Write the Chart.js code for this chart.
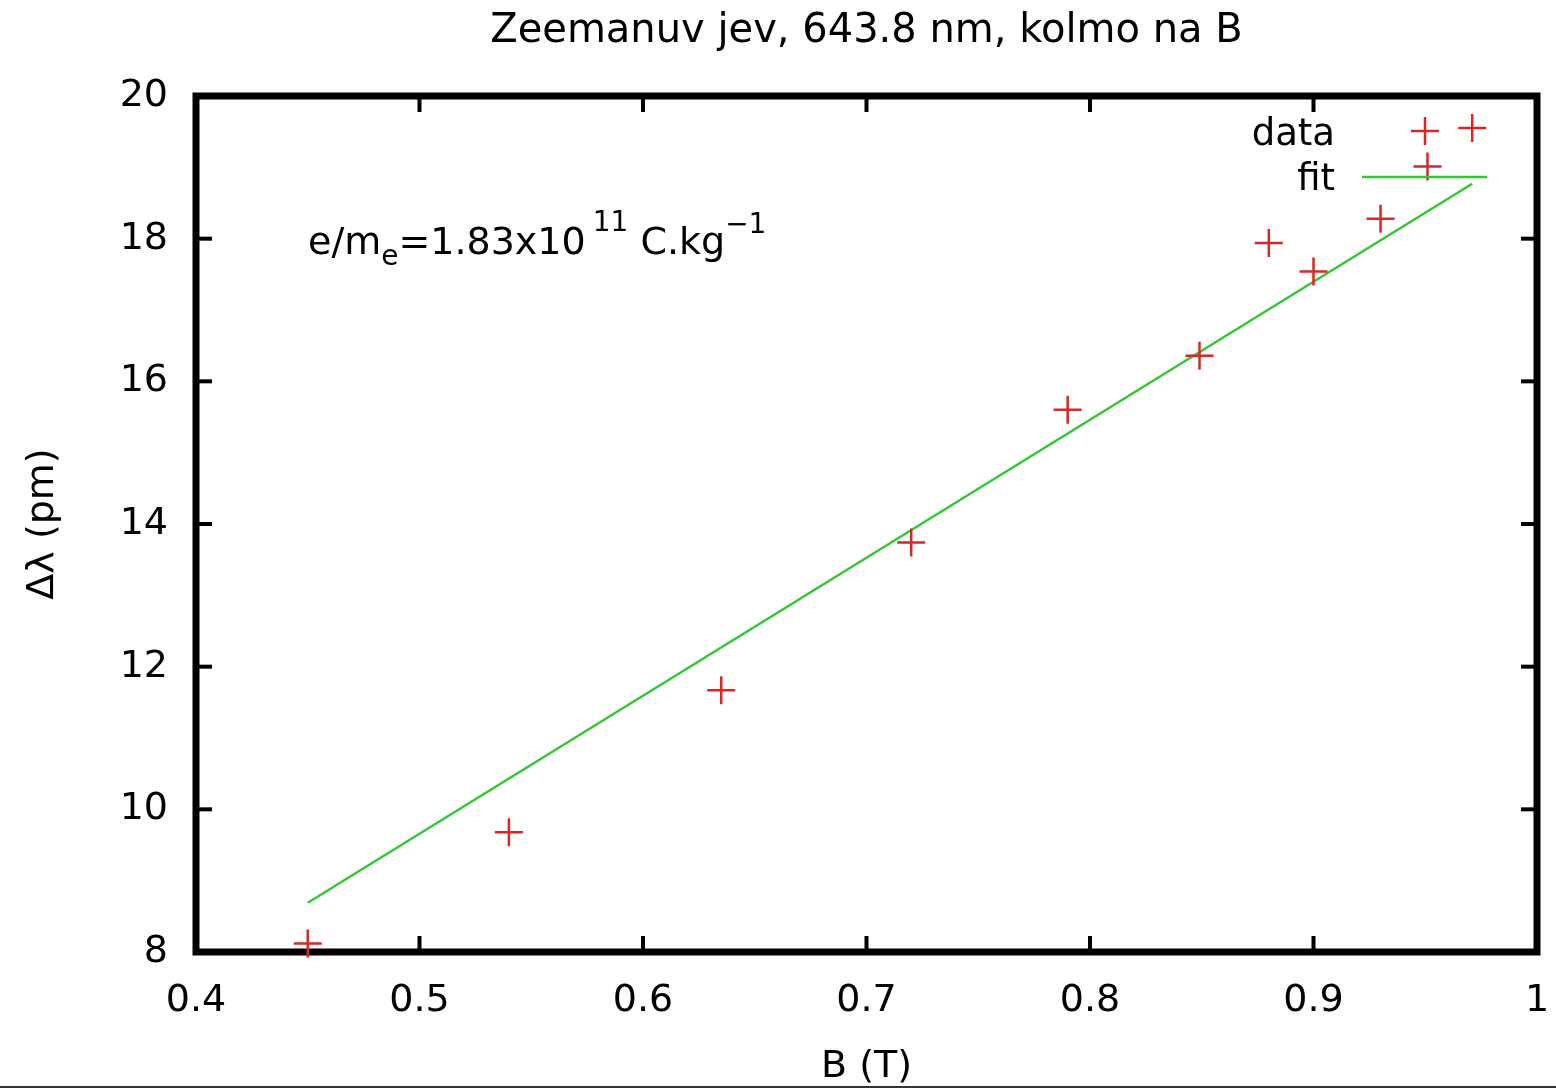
<!DOCTYPE html>
<html>
<head>
<meta charset="utf-8">
<title>Zeemanuv jev</title>
<script src="https://cdn.jsdelivr.net/npm/chart.js@4.4.0/dist/chart.umd.min.js"></script>
<style>
  html, body { margin: 0; padding: 0; background: #fff; }
  canvas { display: block; background: #fff; }
</style>
</head>
<body>
<canvas id="zeeman-chart" width="1556" height="1090"></canvas>
<script>
const fieldB = [0.45, 0.54, 0.635, 0.72, 0.79, 0.849, 0.88, 0.90, 0.93, 0.951, 0.971];
const deltaLambda = [8.12, 9.68, 11.67, 13.74, 15.60, 16.36, 17.94, 17.54, 18.28, 19.01, 19.55];
// linear fit end points
const fitB = [0.45, 0.971];
const fitLambda = [8.69, 18.77];
const xTicks = [0.4, 0.5, 0.6, 0.7, 0.8, 0.9, 1];
const yTicks = [8, 10, 12, 14, 16, 18, 20];

const FONT = '"DejaVu Sans", Verdana, sans-serif';
const RED = '#d92626';
const GREEN = '#33c833';

function strokeLine(ctx, x1, y1, x2, y2) {
  ctx.beginPath();
  ctx.moveTo(x1, y1);
  ctx.lineTo(x2, y2);
  ctx.stroke();
}

function drawCross(ctx, x, y, r) {
  ctx.save();
  ctx.strokeStyle = RED;
  ctx.lineWidth = 2.5;
  strokeLine(ctx, x - r, y, x + r, y);
  strokeLine(ctx, x, y - r, x, y + r);
  ctx.restore();
}

const gnuplotFrame = {
  id: 'gnuplotFrame',
  beforeDatasetsDraw(chart) {
    const { ctx, chartArea: a, scales: { x, y } } = chart;
    ctx.save();
    ctx.strokeStyle = '#000';
    ctx.lineWidth = 4;
    xTicks.forEach(v => {
      const px = x.getPixelForValue(v);
      strokeLine(ctx, px, a.bottom, px, a.bottom - 16);
      strokeLine(ctx, px, a.top, px, a.top + 16);
    });
    yTicks.forEach(v => {
      const py = y.getPixelForValue(v);
      strokeLine(ctx, a.left, py, a.left + 16, py);
      strokeLine(ctx, a.right, py, a.right - 16, py);
    });
    ctx.lineWidth = 7;
    ctx.strokeRect(a.left, a.top, a.right - a.left, a.bottom - a.top);
    ctx.restore();
  },
  afterDraw(chart) {
    const { ctx, width } = chart;
    ctx.save();
    ctx.fillStyle = '#000';
    ctx.textBaseline = 'alphabetic';
    ctx.textAlign = 'left';

    // e/m_e annotation
    let cx = 308;
    const base = 254;
    const big = '38px ' + FONT;
    const small = '28px ' + FONT;
    const parts = [
      ['e/m', big, 0, 0],
      ['e', small, 11, 0],
      ['=1.83x10', big, 0, 7],
      ['11', small, -23, 0],
      [' C.kg', big, 0, 0],
      ['\u22121', small, -21, 0]
    ];
    parts.forEach(([t, f, dy, gap]) => {
      ctx.font = f;
      ctx.fillText(t, cx, base + dy);
      cx += ctx.measureText(t).width + gap;
    });

    // key, top right
    ctx.font = '37px ' + FONT;
    ctx.textAlign = 'right';
    ctx.fillText('data', 1335, 145);
    ctx.fillText('fit', 1335, 190);
    drawCross(ctx, 1425, 131, 14);
    ctx.strokeStyle = GREEN;
    ctx.lineWidth = 2.5;
    strokeLine(ctx, 1362, 177, 1487, 177);

    // dark rule along the bottom edge of the picture
    ctx.strokeStyle = '#333';
    ctx.lineWidth = 2;
    strokeLine(ctx, 0, 1087, width, 1087);
    ctx.restore();
  }
};

new Chart(document.getElementById('zeeman-chart'), {
  type: 'scatter',
  data: {
    datasets: [
      {
        label: 'data',
        data: fieldB.map((b, i) => ({ x: b, y: deltaLambda[i] })),
        pointStyle: 'cross',
        pointRadius: 14,
        pointHoverRadius: 14,
        pointBorderWidth: 2.5,
        borderColor: RED,
        backgroundColor: RED,
        clip: false
      },
      {
        label: 'fit',
        data: fitB.map((b, i) => ({ x: b, y: fitLambda[i] })),
        showLine: true,
        pointRadius: 0,
        borderColor: GREEN,
        borderWidth: 2.5,
        clip: false
      }
    ]
  },
  options: {
    responsive: false,
    animation: false,
    events: [],
    layout: { padding: { left: 0, right: 19, top: 0, bottom: 0 } },
    plugins: {
      legend: { display: false },
      tooltip: { enabled: false },
      title: {
        display: true,
        fullSize: false,
        text: 'Zeemanuv jev, 643.8 nm, kolmo na B',
        color: '#000',
        font: { family: FONT, size: 40, weight: 'normal', lineHeight: 1.2 },
        padding: { top: 8, bottom: 40 }
      }
    },
    scales: {
      x: {
        type: 'linear',
        min: 0.4,
        max: 1,
        afterBuildTicks: s => { s.ticks = xTicks.map(v => ({ value: v })); },
        afterFit: s => {
          s.height = 1090 - 952;
          s.paddingLeft = 0;
          s.paddingRight = 0;
        },
        grid: { display: false, drawTicks: false },
        border: { display: false },
        ticks: {
          color: '#000',
          padding: 26,
          maxRotation: 0,
          font: { family: FONT, size: 38 },
          callback: v => String(v)
        },
        title: {
          display: true,
          text: 'B (T)',
          color: '#000',
          font: { family: FONT, size: 38 },
          padding: { top: 0, bottom: 0 }
        }
      },
      y: {
        type: 'linear',
        min: 8,
        max: 20,
        afterBuildTicks: s => { s.ticks = yTicks.map(v => ({ value: v })); },
        afterFit: s => { s.width = 196; },
        grid: { display: false, drawTicks: false },
        border: { display: false },
        ticks: {
          color: '#000',
          padding: 28,
          font: { family: FONT, size: 38 },
          callback: v => String(v)
        },
        title: {
          display: true,
          text: '\u0394\u03bb (pm)',
          color: '#000',
          font: { family: FONT, size: 38 },
          padding: { top: 20, bottom: 0 }
        }
      }
    }
  },
  plugins: [gnuplotFrame]
});
</script>
</body>
</html>
